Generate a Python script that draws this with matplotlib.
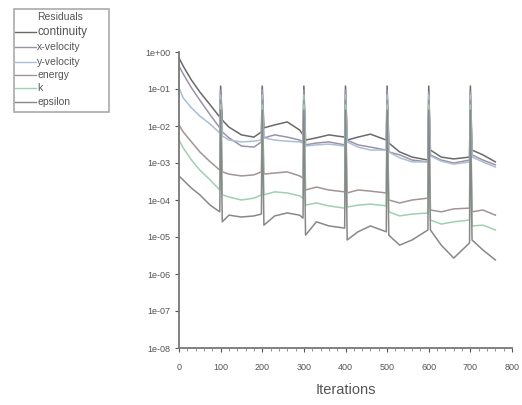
import matplotlib
matplotlib.use("Agg")
import matplotlib.pyplot as plt
from matplotlib.lines import Line2D
from matplotlib.patches import Rectangle
import numpy as np

plt.rcParams['font.family'] = ['Liberation Sans', 'DejaVu Sans']

# Iteration numbers at which residuals were sampled
iterations = [0, 10, 30, 50, 75, 98, 100, 104, 120, 150, 180, 198, 200, 204, 230, 260,
              290, 298, 300, 304, 330, 360, 398, 400, 404, 430, 460, 498, 500, 504,
              530, 560, 598, 600, 604, 630, 660, 698, 700, 704, 730, 760]

# log10 of scaled residuals
continuity = [-0.16, -0.38, -0.76, -1.08, -1.43, -1.76, -0.92, -1.84, -2.03, -2.24, -2.30,
              -2.16, -0.92, -2.05, -1.97, -1.89, -2.11, -2.24, -0.92, -2.38, -2.32, -2.24,
              -2.30, -0.92, -2.38, -2.30, -2.22, -2.38, -0.92, -2.46, -2.70, -2.84, -2.92,
              -0.92, -2.65, -2.84, -2.89, -2.84, -0.92, -2.65, -2.78, -2.97]
x_velocity = [-0.38, -0.59, -0.97, -1.30, -1.70, -2.05, -1.03, -2.16, -2.32, -2.54, -2.57,
              -2.43, -1.03, -2.32, -2.24, -2.30, -2.38, -2.43, -1.03, -2.51, -2.46, -2.43,
              -2.51, -1.03, -2.38, -2.51, -2.57, -2.65, -1.03, -2.70, -2.78, -2.92, -2.97,
              -1.08, -2.78, -2.92, -3.00, -2.92, -1.08, -2.78, -2.92, -3.05]
y_velocity = [-0.97, -1.24, -1.51, -1.73, -1.95, -2.19, -1.16, -2.27, -2.38, -2.43, -2.41,
              -2.38, -1.16, -2.32, -2.38, -2.41, -2.43, -2.46, -1.16, -2.54, -2.51, -2.49,
              -2.54, -1.16, -2.43, -2.57, -2.65, -2.65, -1.16, -2.70, -2.86, -2.97, -2.97,
              -1.16, -2.81, -2.95, -3.03, -2.97, -1.16, -2.84, -2.97, -3.11]
energy = [-1.97, -2.16, -2.43, -2.70, -2.97, -3.19, -1.30, -3.24, -3.30, -3.35, -3.32,
          -3.24, -1.30, -3.30, -3.27, -3.24, -3.35, -3.41, -1.30, -3.73, -3.65, -3.73,
          -3.78, -1.30, -3.81, -3.73, -3.76, -3.81, -1.30, -4.00, -4.08, -4.00, -3.95,
          -1.30, -4.27, -4.32, -4.24, -4.22, -1.30, -4.32, -4.27, -4.41]
k = [-2.38, -2.59, -2.92, -3.19, -3.46, -3.73, -1.43, -3.86, -3.92, -4.00, -3.95,
     -3.86, -1.43, -3.86, -3.78, -3.81, -3.89, -3.95, -1.43, -4.14, -4.08, -4.16,
     -4.22, -1.43, -4.19, -4.14, -4.11, -4.16, -1.43, -4.32, -4.43, -4.38, -4.35,
     -1.43, -4.54, -4.65, -4.59, -4.54, -1.43, -4.70, -4.68, -4.81]
epsilon = [-3.35, -3.46, -3.68, -3.86, -4.14, -4.32, -1.57, -4.59, -4.41, -4.46, -4.43,
           -4.38, -1.57, -4.68, -4.43, -4.35, -4.41, -4.49, -1.57, -4.95, -4.59, -4.70,
           -4.76, -1.57, -5.08, -4.86, -4.70, -4.86, -1.57, -4.95, -5.22, -5.08, -4.81,
           -1.57, -4.81, -5.22, -5.57, -5.16, -1.57, -5.08, -5.35, -5.62]

series_names = ["continuity", "x-velocity", "y-velocity", "energy", "k", "epsilon"]
series_values = [continuity, x_velocity, y_velocity, energy, k, epsilon]
series_colors = ["#6a6a6a", "#9c92ab", "#a9bfd3", "#a39494", "#9fd0b0", "#888888"]

x_ticks = [0, 100, 200, 300, 400, 500, 600, 700, 800]
y_exponents = [0, -1, -2, -3, -4, -5, -6, -7, -8]
y_tick_labels = ["1e+00", "1e-01", "1e-02", "1e-03", "1e-04", "1e-05", "1e-06", "1e-07", "1e-08"]

W, H = 522, 405
fig = plt.figure(figsize=(W / 100, H / 100), dpi=100)
ax = fig.add_axes([179 / W, 1 - 348 / H, 333 / W, 296 / H])

for name, vals, col in zip(series_names, series_values, series_colors):
    ax.plot(iterations, 10.0 ** np.array(vals), color=col, lw=1.1, label=name)

ax.set_yscale("log")
ax.set_ylim(1e-8, 1e0)
ax.set_xlim(0, 800)
ax.set_yticks([10.0 ** e for e in y_exponents])
ax.set_yticklabels(y_tick_labels)
ax.yaxis.set_minor_locator(matplotlib.ticker.NullLocator())
ax.set_xticks(x_ticks)
ax.set_xticks(np.arange(0, 801, 20), minor=True)

for side in ("top", "right"):
    ax.spines[side].set_visible(False)
for side in ("left", "bottom"):
    ax.spines[side].set_color("#777777")
    ax.spines[side].set_linewidth(1.3)

ax.tick_params(axis="both", which="major", labelsize=6.5, colors="#555555",
               length=3, width=0.8, labelcolor="#555555")
ax.tick_params(axis="x", which="minor", length=2, width=0.6, colors="#888888")
ax.tick_params(axis="x", pad=8)
ax.set_xlabel("Iterations", fontsize=10.5, color="#555555", labelpad=8)

# Residuals legend box, laid out in pixel units of the figure
def fx(px):
    return px / W

def fy(py):
    return 1 - py / H

fig.add_artist(Rectangle((fx(14), fy(112)), fx(109) - fx(14), fy(9) - fy(112),
                         transform=fig.transFigure, fill=False,
                         edgecolor="#aaaaaa", linewidth=1.2))
fig.text(fx(37), fy(17), "Residuals", fontsize=7.5, color="#555555",
         va="center", ha="left")
entry_rows = [32, 47, 62, 75, 88, 102]
entry_sizes = [8.5, 7.5, 7.5, 7.5, 7.5, 7.5]
for name, col, row, size in zip(series_names, series_colors, entry_rows, entry_sizes):
    fig.add_artist(Line2D([fx(15), fx(36)], [fy(row), fy(row)],
                          transform=fig.transFigure, color=col, lw=1.0))
    fig.text(fx(37), fy(row), name, fontsize=size, color="#555555",
             va="center", ha="left")

fig.savefig("out.png", dpi=100, facecolor="white")
